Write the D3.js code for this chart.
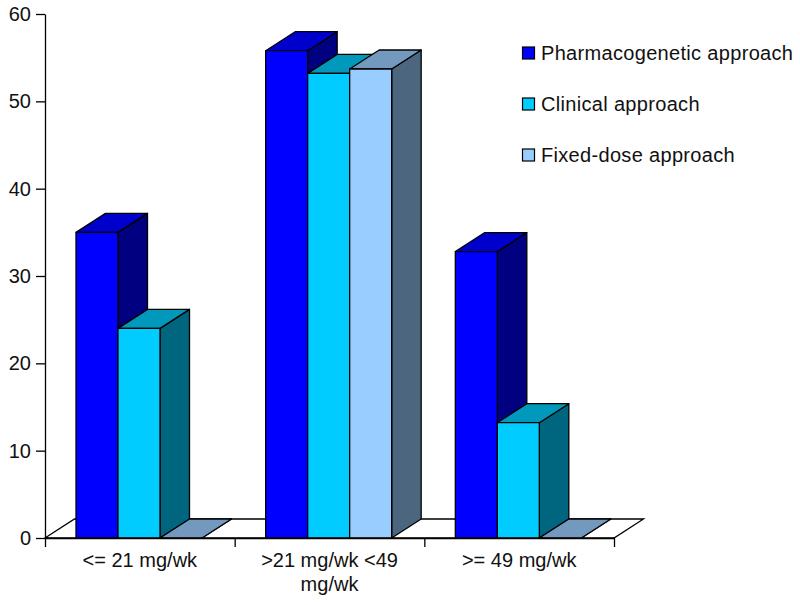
<!DOCTYPE html>
<html>
<head>
<meta charset="utf-8">
<script src="https://cdn.jsdelivr.net/npm/d3@7"></script>
<style>
  html, body { margin: 0; padding: 0; background: #fff; }
  text { font-family: "Liberation Sans", Arial, sans-serif; fill: #111; }
</style>
</head>
<body>
<svg id="chart" width="800" height="605"></svg>
<script>
var categories = ['<= 21 mg/wk', '>21 mg/wk <49 mg/wk', '>= 49 mg/wk'];
var seriesNames = ['Pharmacogenetic approach', 'Clinical approach', 'Fixed-dose approach'];
var pharmacogenetic = [35.0, 55.8, 32.8];
var clinical = [24.0, 53.2, 13.2];
var fixedDose = [0, 53.7, 0];
var yTicks = [0, 10, 20, 30, 40, 50, 60];

var seriesValues = [pharmacogenetic, clinical, fixedDose];
var frontColors = ['#0000ff', '#00ccff', '#99ccff'];
var topColors = ['#0000cc', '#0099bb', '#7399bf'];
var sideColors = ['#000080', '#006680', '#4d6680'];

// offset of the back of the chart, this is what makes it look 3d
var depthX = 29.5;
var depthY = -19;

var svg = d3.select('#chart');

var x = d3.scaleBand().domain(categories).range([45, 614]);
var xSeries = d3.scaleBand().domain(d3.range(3)).range([31, 157]);
var y = d3.scaleLinear().domain([0, 60]).range([538, 14]);

var poly = function(points) {
    return points.map(function(p) { return p.join(','); }).join(' ');
};

// floor
svg.append('polygon')
    .attr('points', poly([
        [x.range()[0], y(0)],
        [x.range()[0] + depthX, y(0) + depthY],
        [x.range()[1] + depthX, y(0) + depthY],
        [x.range()[1], y(0)]
    ]))
    .attr('fill', '#fff')
    .attr('stroke', '#000')
    .attr('stroke-width', 1.3);

var bars = [];
categories.forEach(function(c, i) {
    seriesValues.forEach(function(values, s) {
        bars.push({category: c, series: s, value: values[i]});
    });
});

var bar = svg.append('g').selectAll('g')
    .data(bars)
    .join('g')
    .attr('stroke', '#000')
    .attr('stroke-width', 1.3)
    .attr('stroke-linejoin', 'round');

// side, top, front in that order so that the next bar covers this one
bar.append('polygon')
    .attr('fill', function(d) { return sideColors[d.series]; })
    .attr('points', function(d) {
        var r = x(d.category) + xSeries(d.series) + xSeries.bandwidth();
        return poly([[r, y(d.value)], [r + depthX, y(d.value) + depthY], [r + depthX, y(0) + depthY], [r, y(0)]]);
    });

bar.append('polygon')
    .attr('fill', function(d) { return topColors[d.series]; })
    .attr('points', function(d) {
        var l = x(d.category) + xSeries(d.series);
        var r = l + xSeries.bandwidth();
        return poly([[l, y(d.value)], [l + depthX, y(d.value) + depthY], [r + depthX, y(d.value) + depthY], [r, y(d.value)]]);
    });

bar.append('rect')
    .attr('fill', function(d) { return frontColors[d.series]; })
    .attr('x', function(d) { return x(d.category) + xSeries(d.series); })
    .attr('y', function(d) { return y(d.value); })
    .attr('width', xSeries.bandwidth())
    .attr('height', function(d) { return y(0) - y(d.value); });

// y axis
var yAxis = svg.append('g')
    .attr('transform', 'translate(45,0)')
    .call(d3.axisLeft(y).tickValues(yTicks).tickSize(9).tickPadding(5).tickSizeOuter(0));

// x axis, ticks sit between the groups and the labels in the middle
var xEdges = d3.scaleLinear().domain([0, 3]).range(x.range());
var xAxis = svg.append('g')
    .attr('transform', 'translate(0,' + y(0) + ')')
    .call(d3.axisBottom(xEdges).tickValues([0, 1, 2, 3]).tickFormat('').tickSize(9).tickSizeOuter(0));

var xLabels = svg.append('g')
    .attr('transform', 'translate(0,' + y(0) + ')')
    .call(d3.axisBottom(x).tickSize(0).tickPadding(15));
xLabels.select('.domain').remove();

svg.selectAll('.tick line, .domain')
    .attr('stroke', '#000')
    .attr('stroke-width', 1.3);
svg.selectAll('.tick text')
    .style('font-size', '20px')
    .style('font-family', '"Liberation Sans", Arial, sans-serif')
    .attr('fill', '#111');

// wrap the long category label
var maxLabelWidth = 170;
xLabels.selectAll('.tick text').each(function(d) {
    var el = d3.select(this);
    var words = d.split(' ');
    var line = [];
    var lineNo = 0;
    var yPos = el.attr('y');
    el.text(null);
    var tspan = el.append('tspan').attr('x', 0).attr('y', yPos).attr('dy', '0.71em');
    words.forEach(function(w) {
        line.push(w);
        tspan.text(line.join(' '));
        if (tspan.node().getComputedTextLength() > maxLabelWidth) {
            line.pop();
            tspan.text(line.join(' '));
            line = [w];
            lineNo++;
            tspan = el.append('tspan').attr('x', 0).attr('y', yPos)
                .attr('dy', (0.71 + lineNo * 1.2) + 'em').text(w);
        }
    });
});

// legend
var legendY = d3.scalePoint().domain(seriesNames).range([53, 155]);
var legend = svg.append('g').selectAll('g')
    .data(seriesNames)
    .join('g')
    .attr('transform', function(d) { return 'translate(522,' + legendY(d) + ')'; });

legend.append('rect')
    .attr('x', 0.5)
    .attr('y', -6)
    .attr('width', 12)
    .attr('height', 12)
    .attr('fill', function(d, i) { return frontColors[i]; })
    .attr('stroke', '#000')
    .attr('stroke-width', 1.2);

legend.append('text')
    .attr('x', 19)
    .attr('y', 7)
    .style('font-size', '20px')
    .style('letter-spacing', '0.32px')
    .text(function(d) { return d; });
</script>
</body>
</html>
